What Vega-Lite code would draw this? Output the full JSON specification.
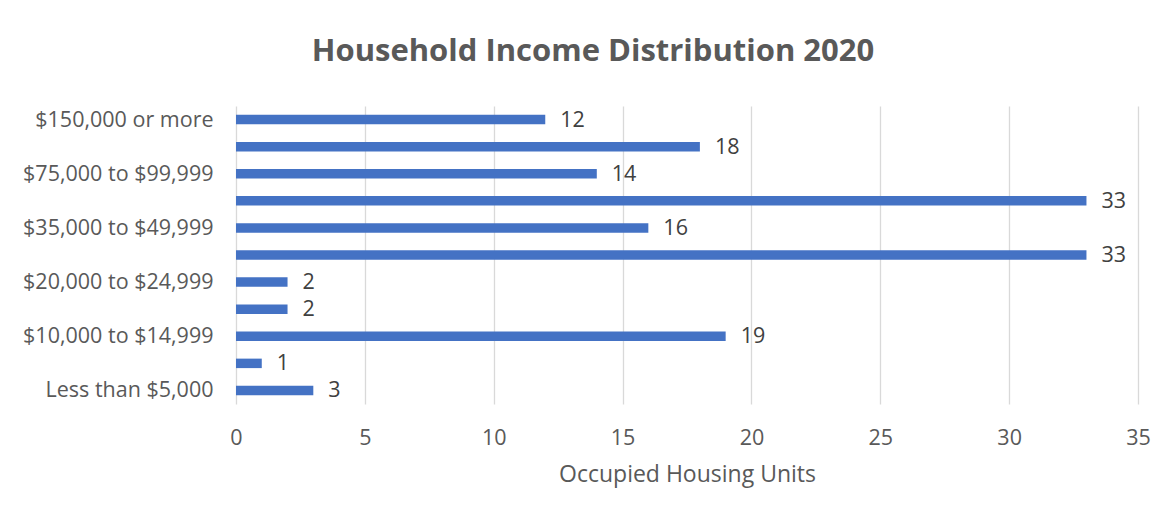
{
  "$schema": "https://vega.github.io/schema/vega-lite/v6.json",
  "autosize": "none",
  "width": 902,
  "height": 298,
  "padding": {"left": 236, "top": 106, "right": 38, "bottom": 114},
  "background": "white",
  "title": {
    "text": "Household Income Distribution 2020",
    "font": "Open Sans",
    "fontSize": 31,
    "fontWeight": "bold",
    "color": "#595959",
    "anchor": "middle",
    "dx": -94,
    "offset": 38
  },
  "data": {
    "values": [
      {"income": "Less than $5,000", "units": 3},
      {"income": "$5,000 to $9,999", "units": 1},
      {"income": "$10,000 to $14,999", "units": 19},
      {"income": "$15,000 to $19,999", "units": 2},
      {"income": "$20,000 to $24,999", "units": 2},
      {"income": "$25,000 to $34,999", "units": 33},
      {"income": "$35,000 to $49,999", "units": 16},
      {"income": "$50,000 to $74,999", "units": 33},
      {"income": "$75,000 to $99,999", "units": 14},
      {"income": "$100,000 to $149,999", "units": 18},
      {"income": "$150,000 or more", "units": 12}
    ]
  },
  "encoding": {
    "y": {
      "field": "income",
      "type": "nominal",
      "sort": ["$150,000 or more", "$100,000 to $149,999", "$75,000 to $99,999", "$50,000 to $74,999", "$35,000 to $49,999", "$25,000 to $34,999", "$20,000 to $24,999", "$15,000 to $19,999", "$10,000 to $14,999", "$5,000 to $9,999", "Less than $5,000"],
      "scale": {"paddingInner": 0.65, "paddingOuter": 0.325},
      "axis": {
        "title": null,
        "values": ["Less than $5,000", "$10,000 to $14,999", "$20,000 to $24,999", "$35,000 to $49,999", "$75,000 to $99,999", "$150,000 or more"],
        "domain": false,
        "ticks": false,
        "grid": false,
        "labelFont": "Open Sans",
        "labelFontSize": 21.5,
        "labelColor": "#595959",
        "labelPadding": 23,
        "labelLimit": 300,
        "labelOffset": 1
      }
    },
    "x": {
      "field": "units",
      "type": "quantitative",
      "scale": {"domain": [0, 35], "nice": false},
      "axis": {
        "values": [0, 5, 10, 15, 20, 25, 30, 35],
        "title": "Occupied Housing Units",
        "titleFont": "Open Sans",
        "titleFontSize": 23,
        "titleFontWeight": "normal",
        "titleColor": "#595959",
        "titlePadding": 15,
        "domain": false,
        "ticks": false,
        "grid": true,
        "gridColor": "#d9d9d9",
        "gridWidth": 1.3,
        "labelFlush": false,
        "labelFont": "Open Sans",
        "labelFontSize": 21.5,
        "labelColor": "#595959",
        "labelPadding": 23
      }
    }
  },
  "layer": [
    {"mark": {"type": "bar", "color": "#4472C4"}},
    {
      "mark": {"type": "text", "align": "left", "baseline": "middle", "dx": 15, "dy": 1, "font": "Open Sans", "fontSize": 21.5, "color": "#404040"},
      "encoding": {"text": {"field": "units", "type": "quantitative"}}
    }
  ],
  "config": {"view": {"stroke": null}}
}
